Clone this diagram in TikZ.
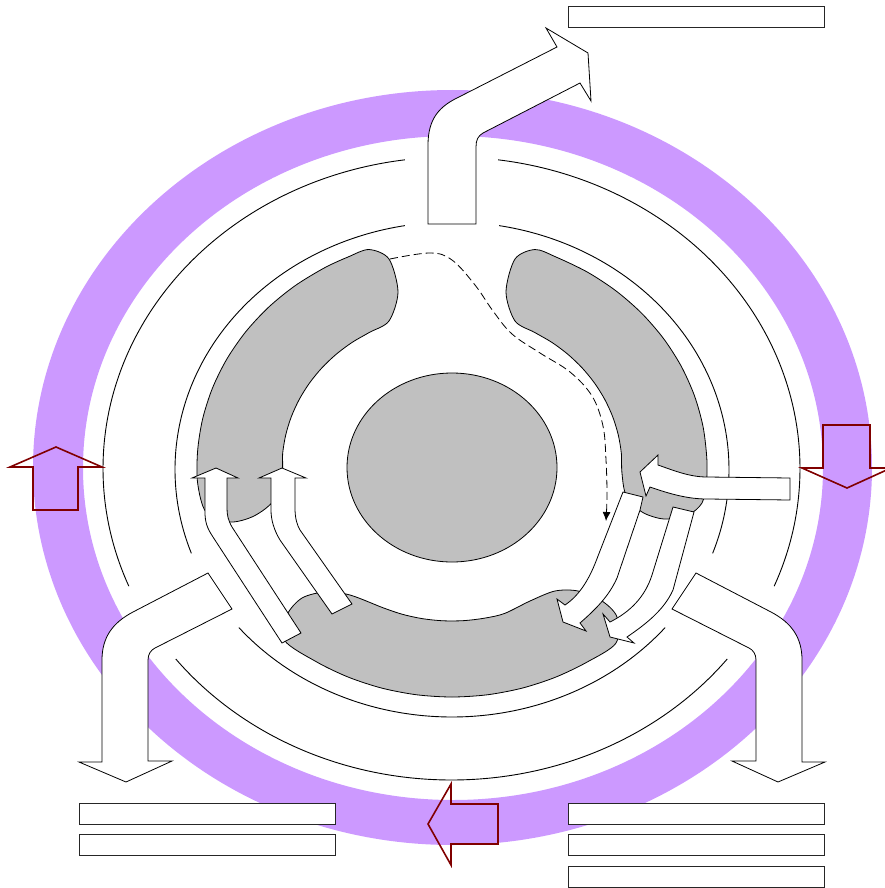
\documentclass[tikz,border=0pt]{standalone}
\usetikzlibrary{arrows.meta,calc,positioning}
\definecolor{lilac}{RGB}{204,153,255}
\definecolor{stone}{RGB}{192,192,192}
\definecolor{maroon}{RGB}{128,0,0}

\begin{document}
\begin{tikzpicture}[x=1pt,y=-1pt,
  rim/.style={draw=black,line width=0.9pt},
  lobe/.style={fill=stone,draw=black,line width=0.8pt},
  flow/.style={fill=white,draw=black,line width=0.8pt,line join=miter},
  heat/.style={draw=maroon,line width=1.6pt,line join=miter},
  tag/.style={draw=black!85,fill=white,line width=0.9pt,minimum width=256pt,minimum height=21pt,inner sep=0pt},
  trace/.style={draw=black,line width=0.8pt,dash pattern=on 8pt off 4pt,-{Latex[length=9pt,width=8pt]}}]
\useasboundingbox (0,0) rectangle (885,888);
\coordinate (core) at (452,467);
\coordinate (outc) at (451.5,468.5);
\coordinate (innc) at (452,469.5);
\fill[lilac,even odd rule] (452.5,467.5) ellipse[x radius=419.5,y radius=377.5]
  (453,468) ellipse[x radius=370,y radius=332];
\foreach \a/\b in {277.7/382.2,37.7/142.3,157.8/262.3}
  \draw[rim] ($(outc)+(\a:348.5 and 311.5)$) arc[start angle=\a,end angle=\b,x radius=348.5,y radius=311.5];
\foreach \a/\b in {279.8/379.8,39.7/140.3,160.2/260.2}
  \draw[rim] ($(innc)+(\a:277 and 247.5)$) arc[start angle=\a,end angle=\b,x radius=277,y radius=247.5];
\begin{scope}[shift={(core)}]
\filldraw[lobe] plot[smooth cycle,tension=0.5] coordinates {
  (176:255 and 230) (184:255 and 230) (192:255 and 230) (200:255 and 230) (208:255 and 230)
  (216:255 and 230) (224:255 and 230) (232:255 and 230) (240:255 and 230) (246:255 and 230) (251:255 and 230)
  (-63,-208) (-54,-175) (-63,-146)
  (241:170 and 154) (234:170 and 154) (227:170 and 154) (220:170 and 154) (213:170 and 154)
  (206:170 and 154) (199:170 and 154) (192:170 and 154) (185:170 and 154) (178:170 and 154)
  (-178,33) (-198,49) (-222,55) (-246,45)};
\filldraw[lobe] plot[smooth cycle,tension=0.5] coordinates {
  (289:255 and 230) (294:255 and 230) (302:255 and 230) (310:255 and 230) (318:255 and 230)
  (326:255 and 230) (334:255 and 230) (342:255 and 230) (350:255 and 230) (358:255 and 230) (4:255 and 230)
  (250,36) (236,48) (212,52) (190,45) (174,28)
  (2:170 and 154) (355:170 and 154) (348:170 and 154) (341:170 and 154) (334:170 and 154)
  (327:170 and 154) (320:170 and 154) (313:170 and 154) (306:170 and 154) (299:170 and 154)
  (63,-146) (54,-175) (63,-208)};
\filldraw[lobe] plot[smooth cycle,tension=0.5] coordinates {
  (50:255 and 230) (58:255 and 230) (66:255 and 230) (74:255 and 230) (82:255 and 230) (90:255 and 230)
  (98:255 and 230) (106:255 and 230) (114:255 and 230) (122:255 and 230) (131:255 and 230)
  (-165,148) (-150,131) (-127,125) (-102,128)
  (114:170 and 154) (107:170 and 154) (100:170 and 154) (93:170 and 154) (86:170 and 154) (79:170 and 154) (72:170 and 154)
  (78,134) (103,124) (126,124) (150,134) (165,150)};
\filldraw[lobe] (0,0.5) ellipse[x radius=105,y radius=94.5];
\end{scope}
\filldraw[flow] (428,224) -- (428,145) .. controls (428,118) and (440,106) .. (459,97)
  -- (557,47) -- (546,28) -- (588,53) -- (591,101) -- (580,83) -- (483,133)
  .. controls (478,136) and (476,140) .. (476,147) -- (476,224) -- cycle;
\filldraw[flow] (208,573) -- (133,612) .. controls (112,623) and (102,638) .. (102,660)
  -- (102,762) -- (79,762) -- (126,782) -- (172,761) -- (148,761) -- (148,660)
  .. controls (148,654) and (151,650) .. (155,648) -- (232,609) -- cycle;
\filldraw[flow] (696,573) -- (771,612) .. controls (792,623) and (802,638) .. (802,660)
  -- (802,762) -- (825,762) -- (778,782) -- (732,761) -- (756,761) -- (756,660)
  .. controls (756,654) and (753,650) .. (749,648) -- (672,609) -- cycle;
\filldraw[flow] (205,478) -- (205,512) .. controls (205,522) and (207,528) .. (213,537)
  -- (282,643) -- (301,633) -- (232,527) .. controls (228,520) and (227,515) .. (227,508)
  -- (227,478) -- (238,478) -- (216,468) -- (192,478) -- cycle;
\filldraw[flow] (271,478) -- (271,510) .. controls (271,520) and (274,530) .. (280,540)
  -- (332,614) -- (352,604) -- (300,530) .. controls (297,525) and (295,518) .. (295,508)
  -- (295,478) -- (306,478) -- (282,468) -- (259,478) -- cycle;
\filldraw[flow] (790,478) -- (707,477) .. controls (690,477) and (675,471) .. (658,465)
  -- (658,455) -- (640,472) -- (646,496) -- (650,487)
  .. controls (670,494) and (688,499) .. (707,499) -- (790,500) -- cycle;
\filldraw[flow] (623,492) -- (598,556) .. controls (590,578) and (580,595) .. (565,605)
  -- (557,599) -- (563,622) -- (586,631) -- (580,623)
  .. controls (596,609) and (609,596) .. (617,578) -- (640,510) -- (643,497) -- cycle;
\filldraw[flow] (673,507) -- (652,575) .. controls (645,597) and (630,612) .. (610,622)
  -- (603,614) -- (610,637) -- (634,643) -- (627,637)
  .. controls (646,624) and (664,610) .. (673,590) -- (694,512) -- cycle;
\coordinate (leak) at (390,259);
\coordinate (drip) at (606,521);
\draw[trace] plot[smooth,tension=0.6] coordinates {(leak) (430,253) (452,260) (475,285) (493,311) (512,334) (540,353) (570,372) (592,396) (603,426) (606,460) (607,495) (drip)};
\draw[heat] (33,510) -- (33,467) -- (10,467) -- (56,447) -- (102,467) -- (78,467) -- (78,510) -- cycle;
\draw[heat] (823,425) -- (870,425) -- (870,468) -- (891,468) -- (847,488) -- (802,468) -- (823,468) -- cycle;
\draw[heat] (498,804) -- (498,844) -- (451,844) -- (451,865) -- (428,824) -- (451,784) -- (451,804) -- cycle;
\node[tag] (capTop) at (696.5,16.5) {};
\node[tag] (capLa) at (207,813.5) {};
\node[tag,below=10pt of capLa] (capLb) {};
\node[tag] (capRa) at (696.5,813.5) {};
\node[tag,below=10pt of capRa] (capRb) {};
\node[tag,below=10pt of capRb] (capRc) {};
\end{tikzpicture}
\end{document}
